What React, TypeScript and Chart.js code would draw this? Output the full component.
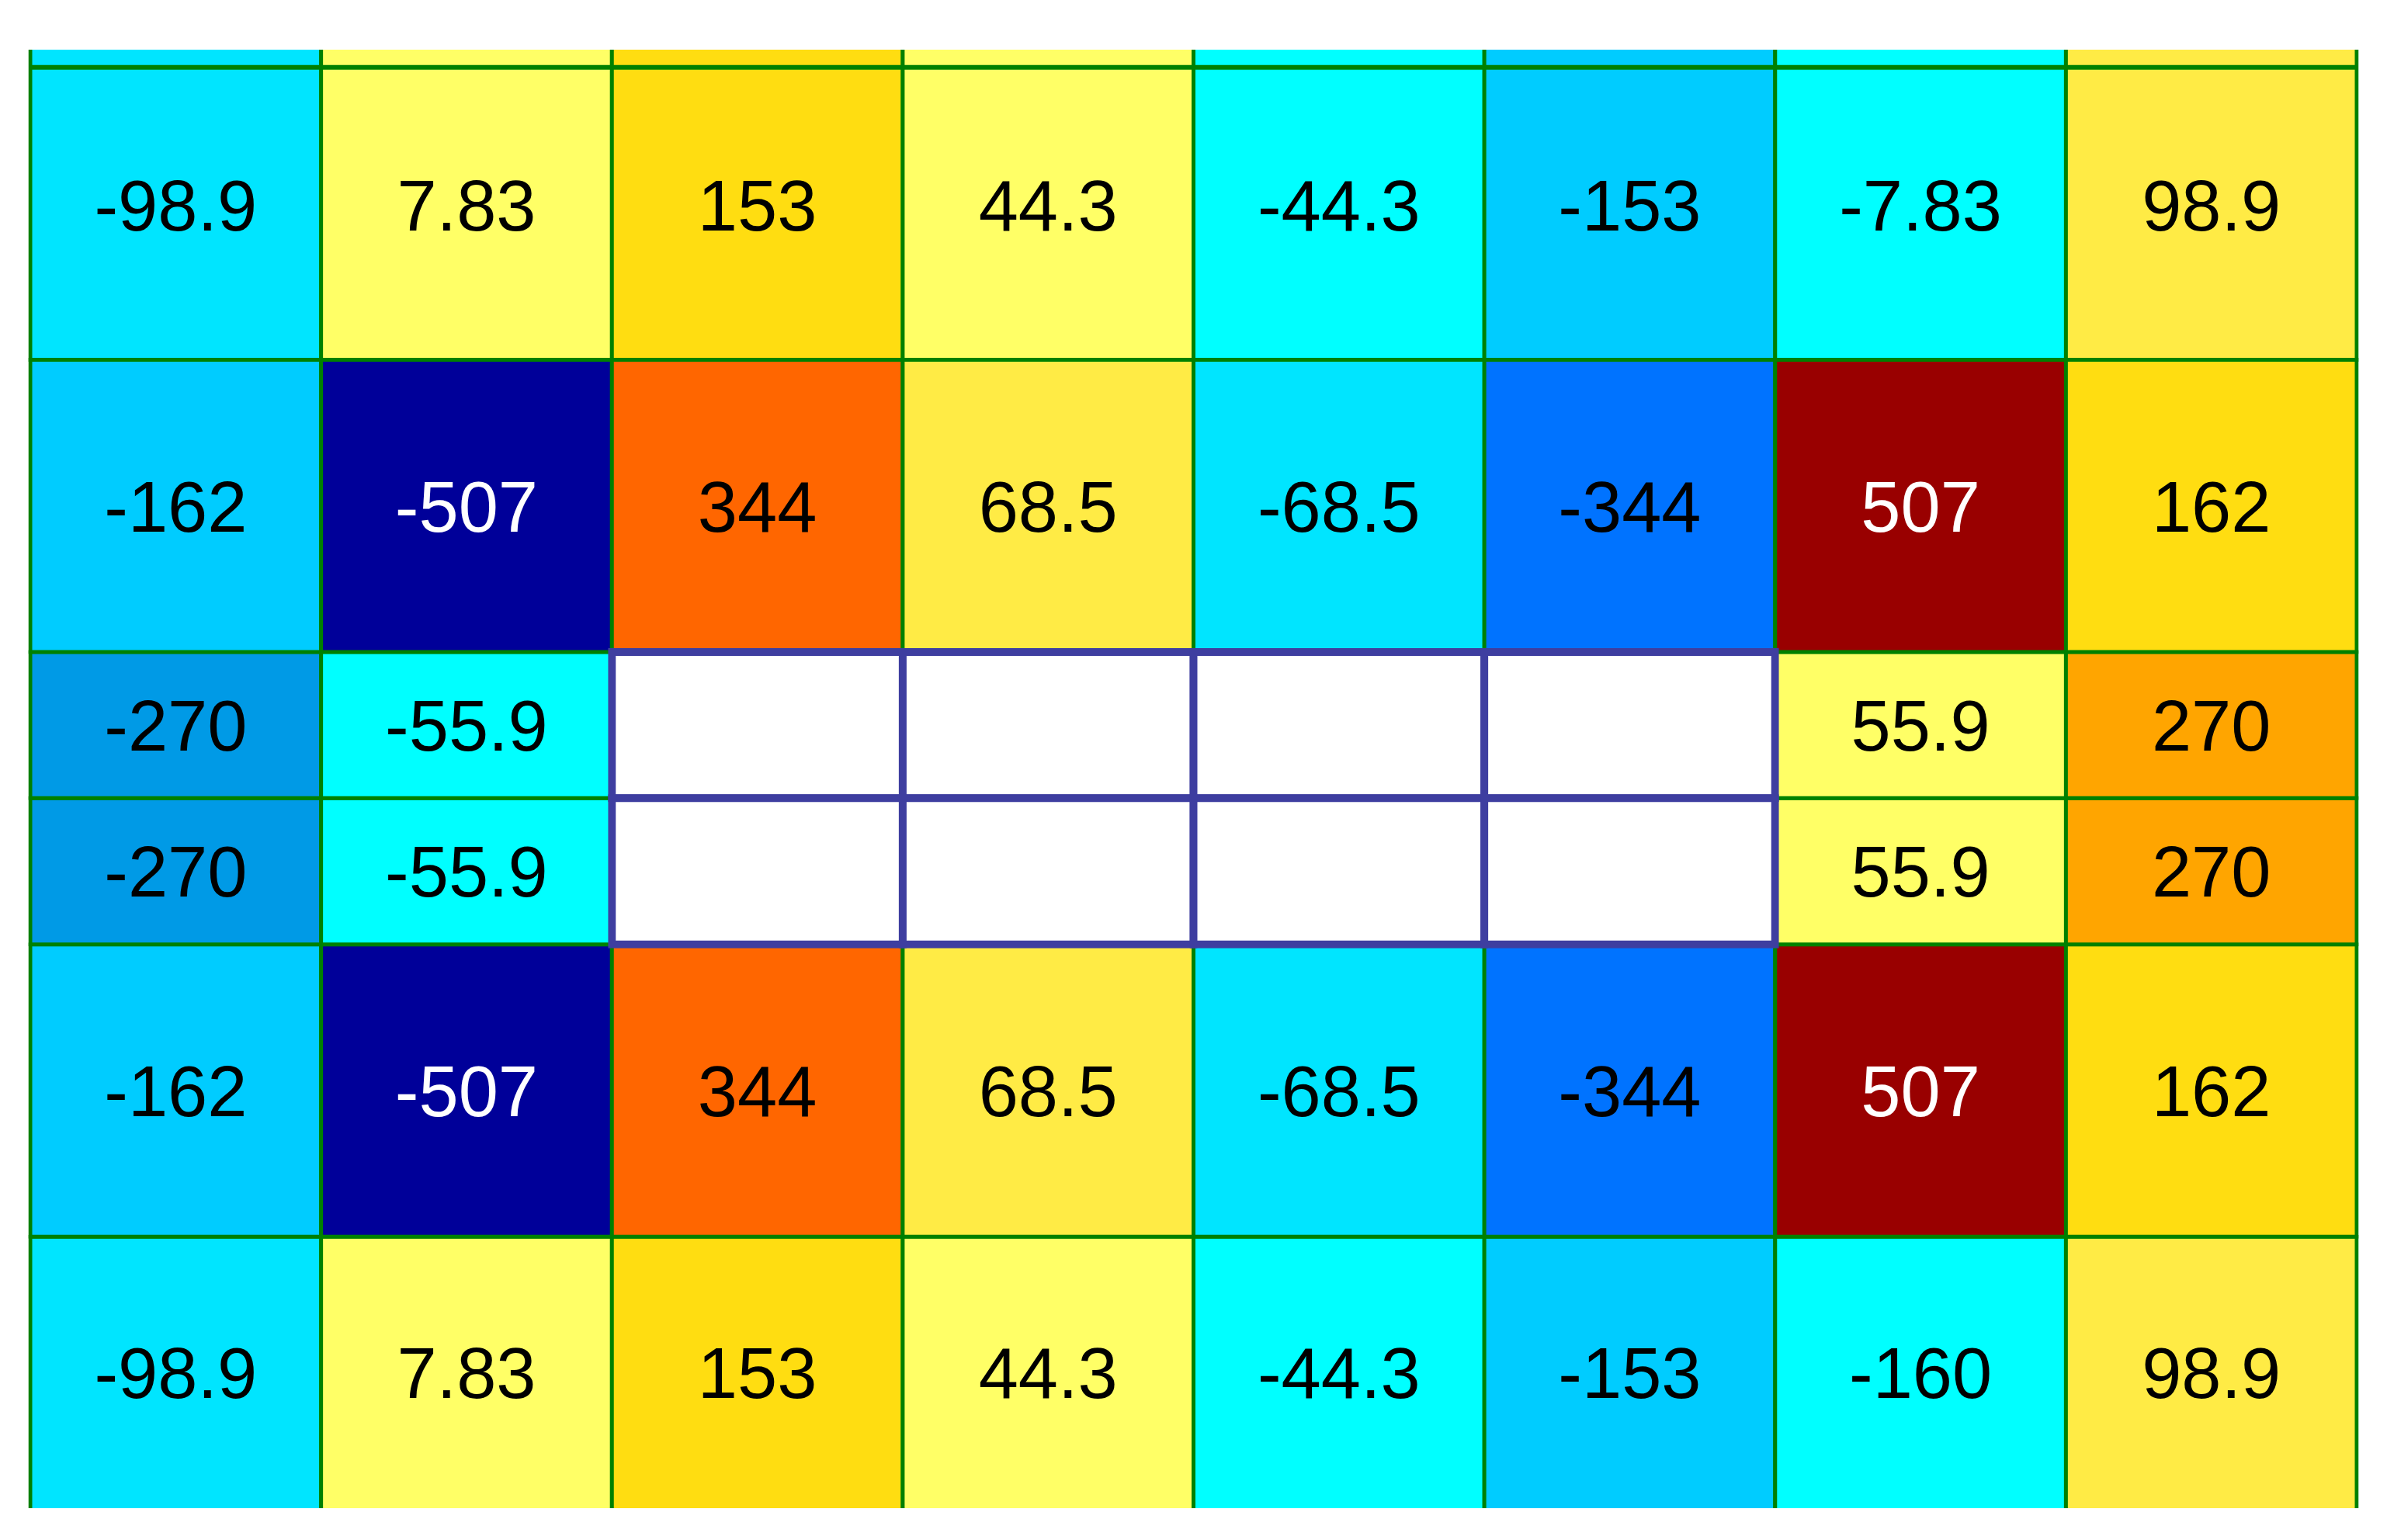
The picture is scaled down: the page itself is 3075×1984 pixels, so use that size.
import React, { useEffect, useRef } from 'react';
import Chart from 'chart.js/auto';

// ---- grid geometry (data units) ----
const columnEdges = [0, 1, 2, 3, 4, 5, 6, 7, 8];
// top -> bottom; the first and last rows are cut by the axis limits
const rowEdges = [3.5, 1.5, 0.5, 0, -0.5, -1.5, -2.5];
// extra mesh line crossing the top row
const meshLineY = [2.5];
const xLimits = [0, 8];
const yLimits = [-2.426, 2.558];

// ---- cell values (null = no label) ----
const row1Values = [-98.9, 7.83, 153, 44.3, -44.3, -153, -7.83, 98.9];
const row2Values = [-162, -507, 344, 68.5, -68.5, -344, 507, 162];
const row3Values = [-270, -55.9, null, null, null, null, 55.9, 270];
const row4Values = [-270, -55.9, null, null, null, null, 55.9, 270];
const row5Values = [-162, -507, 344, 68.5, -68.5, -344, 507, 162];
const row6Values = [-98.9, 7.83, 153, 44.3, -44.3, -153, -160, 98.9];
const cellValues = [row1Values, row2Values, row3Values, row4Values, row5Values, row6Values];

// ---- cell colours (null = empty cell with blue outline) ----
const row1Colors = ['#00E5FF', '#FFFF66', '#FFDD11', '#FFFF66', '#00FFFF', '#00CCFF', '#00FFFF', '#FFEB45'];
const row2Colors = ['#00CCFF', '#000099', '#FF6600', '#FFEB45', '#00E5FF', '#0073FF', '#990000', '#FFDD11'];
const row3Colors = ['#009AE6', '#00FFFF', null, null, null, null, '#FFFF66', '#FFA500'];
const row4Colors = ['#009AE6', '#00FFFF', null, null, null, null, '#FFFF66', '#FFA500'];
const row5Colors = ['#00CCFF', '#000099', '#FF6600', '#FFEB45', '#00E5FF', '#0073FF', '#990000', '#FFDD11'];
const row6Colors = ['#00E5FF', '#FFFF66', '#FFDD11', '#FFFF66', '#00FFFF', '#00CCFF', '#00FFFF', '#FFEB45'];
const cellColors = [row1Colors, row2Colors, row3Colors, row4Colors, row5Colors, row6Colors];

const GRID_GREEN = '#008000';
const VOID_BLUE = '#3E3EA0';
const FONT_SIZE = 92;

function isDark(hex: string): boolean {
  const r = parseInt(hex.slice(1, 3), 16);
  const g = parseInt(hex.slice(3, 5), 16);
  const b = parseInt(hex.slice(5, 7), 16);
  return 0.299 * r + 0.587 * g + 0.114 * b < 90;
}

const cellLabelPlugin = {
  id: 'cellLabels',
  afterDatasetsDraw(chart: any) {
    const { ctx, chartArea, scales } = chart;
    const x = scales.x;
    const y = scales.y;
    ctx.save();
    ctx.font = `${FONT_SIZE}px "Liberation Sans", Arial, sans-serif`;
    ctx.textAlign = 'center';
    ctx.textBaseline = 'alphabetic';
    cellValues.forEach((vals, r) => {
      vals.forEach((v, c) => {
        if (v === null || v === undefined) return;
        const cx = x.getPixelForValue((columnEdges[c] + columnEdges[c + 1]) / 2);
        const top = Math.max(y.getPixelForValue(rowEdges[r]), chartArea.top);
        const bottom = Math.min(y.getPixelForValue(rowEdges[r + 1]), chartArea.bottom);
        const cy = (top + bottom) / 2;
        const col = cellColors[r][c];
        ctx.fillStyle = col && isDark(col) ? '#FFFFFF' : '#000000';
        ctx.fillText(String(v), cx, cy + FONT_SIZE * 0.358);
      });
    });
    ctx.restore();
  },
};

function buildDatasets() {
  const datasets: any[] = [];
  const voidData: any[] = [];
  cellColors.forEach((colors, r) => {
    const data: any[] = [];
    const bg: string[] = [];
    colors.forEach((color, c) => {
      const point = {
        x: (columnEdges[c] + columnEdges[c + 1]) / 2,
        y: [rowEdges[r + 1], rowEdges[r]],
      };
      if (color === null) {
        voidData.push(point);
      } else {
        data.push(point);
        bg.push(color);
      }
    });
    datasets.push({
      type: 'bar',
      data,
      backgroundColor: bg,
      borderColor: GRID_GREEN,
      borderWidth: 5,
      inflateAmount: 2.5,
      borderSkipped: false,
      grouped: false,
      barPercentage: 1,
      categoryPercentage: 1,
      clip: { left: 3, right: 3, top: 1, bottom: 1 },
      order: 2,
    });
  });
  // mesh line through the top row
  meshLineY.forEach((yv) => {
    datasets.push({
      type: 'line',
      data: [
        { x: xLimits[0], y: yv },
        { x: xLimits[1], y: yv },
      ],
      borderColor: GRID_GREEN,
      borderWidth: 6,
      pointRadius: 0,
      fill: false,
      order: 1,
    });
  });
  datasets.push({
    type: 'bar',
    data: voidData,
    backgroundColor: '#FFFFFF',
    borderColor: VOID_BLUE,
    borderWidth: 10,
    inflateAmount: 5,
    borderSkipped: false,
    grouped: false,
    barPercentage: 1,
    categoryPercentage: 1,
    clip: 0,
    order: 0,
  });
  return datasets;
}

export default function App() {
  const canvasRef = useRef<HTMLCanvasElement | null>(null);

  useEffect(() => {
    if (!canvasRef.current) return;
    const chart = new Chart(canvasRef.current, {
      type: 'bar',
      data: { datasets: buildDatasets() },
      options: {
        responsive: false,
        maintainAspectRatio: false,
        animation: false,
        devicePixelRatio: 1,
        layout: { padding: { left: 39, right: 39, top: 65, bottom: 42 } },
        plugins: {
          legend: { display: false },
          tooltip: { enabled: false },
        },
        scales: {
          x: {
            type: 'linear',
            min: xLimits[0],
            max: xLimits[1],
            offset: false,
            display: false,
            ticks: { stepSize: 1 },
          },
          y: {
            type: 'linear',
            min: yLimits[0],
            max: yLimits[1],
            display: false,
          },
        },
      } as any,
      plugins: [cellLabelPlugin],
    });
    return () => chart.destroy();
  }, []);

  return (
    <div style={{ position: 'absolute', left: 0, top: 0, width: 3075, height: 1984, background: '#FFFFFF' }}>
      <canvas ref={canvasRef} width={3075} height={1984} style={{ display: 'block', width: 3075, height: 1984 }} />
    </div>
  );
}
